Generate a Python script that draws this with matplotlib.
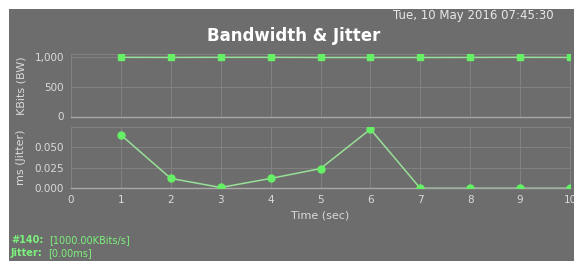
import matplotlib
matplotlib.use("Agg")
import matplotlib.pyplot as plt
from matplotlib.ticker import FuncFormatter

time_sec = [1, 2, 3, 4, 5, 6, 7, 8, 9, 10]
bandwidth_kbits = [1000, 998, 1000, 1000, 997, 997, 997, 998, 1000, 998]
jitter_ms = [0.065, 0.012, 0.001, 0.012, 0.024, 0.072, 0.0, 0.0, 0.0, 0.0]
bw_ticks = [0, 500, 1000]
jitter_ticks = [0.0, 0.025, 0.05]
x_ticks = list(range(0, 11))

BG = "#6d6d6d"
GRID = "#828282"
TXT = "#dadada"
LINE = "#98e098"
MARK = "#66f066"
LEG = "#7cf07c"

W, H = 574, 261
fig = plt.figure(figsize=(5.74, 2.61), dpi=100, facecolor=BG)
# white strips at top and left
fig.patches.append(plt.Rectangle((0, 1 - 9 / H), 1, 9 / H, transform=fig.transFigure,
                                 facecolor="white", edgecolor="none", zorder=-5))
fig.patches.append(plt.Rectangle((0, 0), 9 / W, 1, transform=fig.transFigure,
                                 facecolor="white", edgecolor="none", zorder=-5))

def ax_rect(x0, y0, x1, y1):
    return [x0 / W, 1 - y1 / H, (x1 - x0) / W, (y1 - y0) / H]

ax1 = fig.add_axes(ax_rect(71, 54, 570, 116.5))
ax2 = fig.add_axes(ax_rect(71, 126.7, 570, 188.3))

for ax in (ax1, ax2):
    ax.set_facecolor(BG)
    ax.set_xlim(0, 10)
    ax.set_xticks(x_ticks)
    ax.grid(True, color=GRID, linewidth=0.7)
    ax.set_axisbelow(True)
    for s in ax.spines.values():
        s.set_color(GRID)
        s.set_linewidth(0.7)
    ax.spines["bottom"].set_color("#a8a8a8")
    ax.spines["bottom"].set_linewidth(1.0)
    ax.tick_params(colors=TXT, labelsize=7.5, length=0, pad=5)

ax1.plot(time_sec, bandwidth_kbits, color=LINE, linewidth=1.1, marker="s",
         markersize=4.8, markerfacecolor=MARK, markeredgecolor=MARK, zorder=3)
ax1.set_ylim(0, 1056)
ax1.set_yticks(bw_ticks)
ax1.yaxis.set_major_formatter(FuncFormatter(lambda v, p: f"{int(v):,}"))
ax1.tick_params(axis="x", labelbottom=False)
ax1.set_ylabel("KBits (BW)", color=TXT, fontsize=8, labelpad=6)

ax2.plot(time_sec, jitter_ms, color=LINE, linewidth=1.1, marker="o",
         markersize=5, markerfacecolor=MARK, markeredgecolor=MARK, zorder=3)
ax2.set_ylim(0, 0.075)
ax2.set_yticks(jitter_ticks + [0.075])
ax2.set_yticklabels(["0.000", "0.025", "0.050", ""])
ax2.set_ylabel("ms (Jitter)", color=TXT, fontsize=8, labelpad=6)
ax2.set_xlabel("Time (sec)", color=TXT, fontsize=8, labelpad=4)

fig.text(0.512, 1 - 36 / H, "Bandwidth & Jitter", color="white", fontsize=12,
         fontweight="bold", ha="center", va="center")
fig.text(393 / W, 1 - 16 / H, "Tue, 10 May 2016 07:45:30", color="#e8e8e8",
         fontsize=8.5, ha="left", va="center")

fig.text(11 / W, 1 - 240 / H, "#140:", color=LEG, fontsize=7, fontweight="bold",
         va="center", ha="left")
fig.text(49 / W, 1 - 240 / H, "[1000.00KBits/s]", color=LEG, fontsize=7,
         va="center", ha="left")
fig.text(11 / W, 1 - 253 / H, "Jitter:", color=LEG, fontsize=7, fontweight="bold",
         va="center", ha="left")
fig.text(48 / W, 1 - 253 / H, "[0.00ms]", color=LEG, fontsize=7,
         va="center", ha="left")

fig.savefig("out.png", dpi=100, facecolor=BG)
